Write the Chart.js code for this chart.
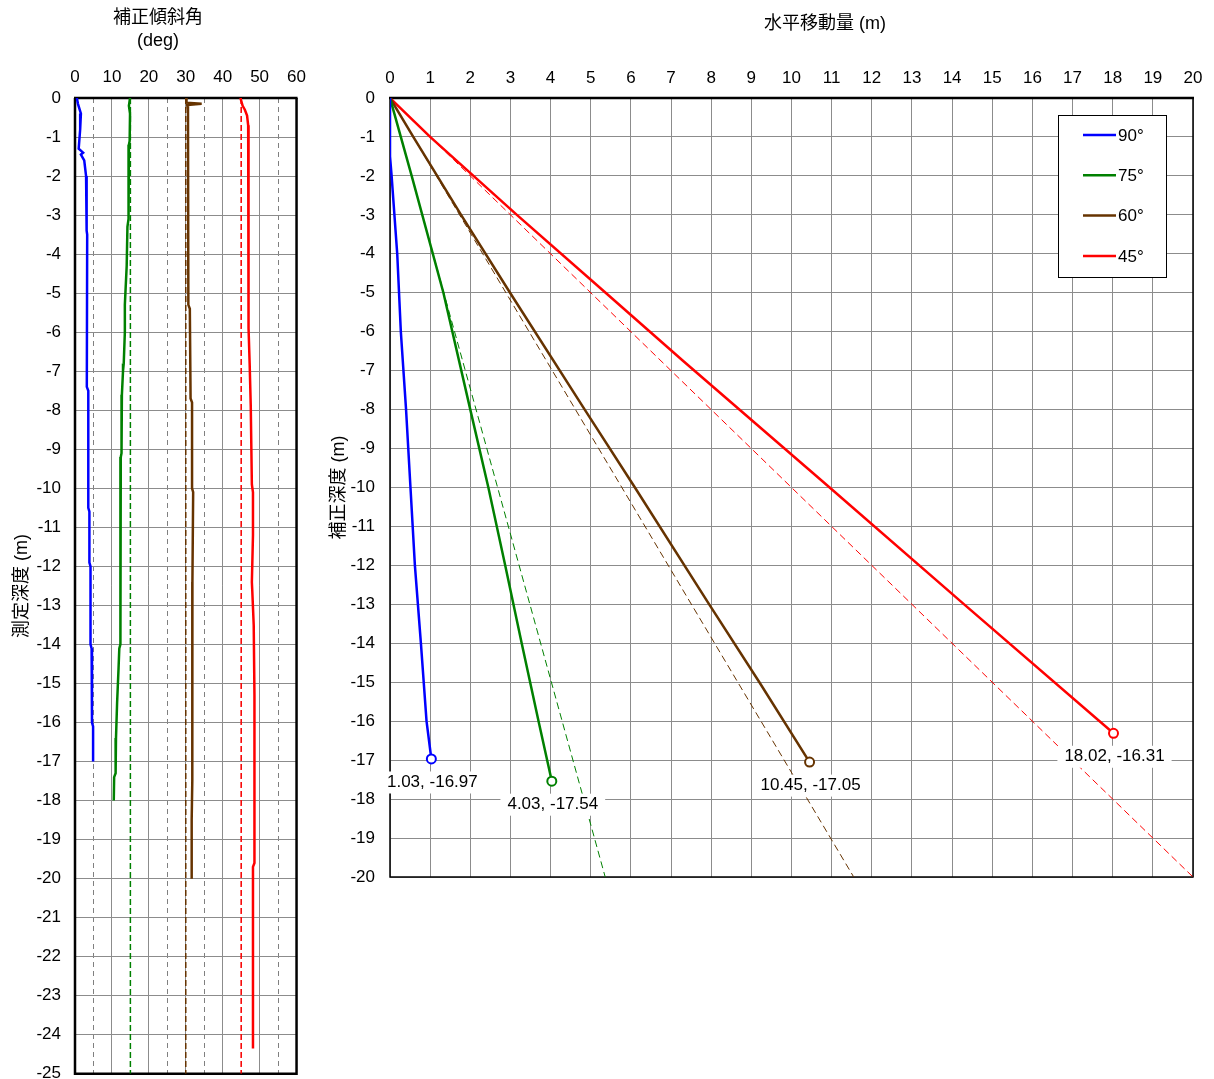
<!DOCTYPE html>
<html>
<head>
<meta charset="utf-8">
<script src="https://cdn.jsdelivr.net/npm/chart.js@4.4.0/dist/chart.umd.min.js"></script>
<style>
  html, body { margin: 0; background: #fff; overflow: hidden; width: 1214px; height: 1079px; }
  #left { position: absolute; left: 0; top: 0; }
  #right { position: absolute; left: 316px; top: 0; }
</style>
</head>
<body>
<canvas id="left" width="316" height="1098"></canvas>
<canvas id="right" width="898" height="903"></canvas>
<script>
// 補正傾斜角 (左のグラフ) : 測定深度ごとの角度
const depth90 = [0, -0.15, -0.4, -0.8, -1.3, -1.4, -1.45, -1.6, -2.0, -2.1, -3.4, -3.5, -7.4, -7.5, -10.5, -10.6, -11.9, -12.0, -13.4, -14.0, -14.1, -16.0, -16.1, -17.0];
const angle90 = [0.5, 0.8, 1.6, 1.4, 1.0, 2.2, 1.6, 2.5, 3.0, 3.2, 3.1, 3.3, 3.2, 3.6, 3.6, 3.9, 3.9, 4.2, 4.1, 4.3, 4.5, 4.6, 4.9, 4.9];
const depth75 = [0, -0.2, -0.4, -1.1, -1.2, -3.1, -3.3, -4.3, -5.3, -6.0, -6.8, -7.0, -7.6, -9.1, -9.2, -12.0, -14.0, -14.1, -14.6, -15.5, -16.4, -17.3, -17.4, -18.0];
const angle75 = [14.9, 14.6, 14.9, 14.8, 14.6, 14.5, 14.2, 14.0, 13.5, 13.5, 13.2, 13.0, 12.7, 12.6, 12.4, 12.3, 12.3, 12.0, 11.8, 11.4, 11.1, 11.0, 10.6, 10.5];
const depth60 = [0, -0.12, -0.15, -0.18, -0.3, -5.3, -5.4, -7.7, -7.8, -10.0, -10.1, -12.4, -14.0, -17.0, -17.5, -18.5, -20.0];
const angle60 = [30.2, 30.2, 34.3, 30.4, 30.6, 30.7, 31.1, 31.3, 31.7, 31.7, 32.0, 31.8, 31.7, 31.7, 31.9, 31.6, 31.6];
const depth45 = [0, -0.2, -0.3, -0.45, -0.7, -0.85, -5.9, -6.8, -7.9, -9.9, -10.1, -11.2, -12.4, -12.6, -13.5, -15.3, -19.6, -19.7, -24.35];
const angle45 = [44.8, 45.4, 46.0, 46.6, 46.9, 47.0, 47.0, 47.3, 47.6, 47.9, 48.2, 48.2, 47.9, 48.0, 48.4, 48.6, 48.6, 48.2, 48.2];

// 計画角度の参考線
const refAngles = [15, 30, 45];
const refDepth = [0, -25];
const minorAngles = [5, 15, 25, 35, 45, 55];

// 水平移動量 (右のグラフ)
const move90X = [0, 0, 0.04, 0.18, 0.27, 0.40, 0.51, 0.62, 0.77, 0.91, 1.03];
const move90Y = [0, -1.5, -2, -4, -6, -8, -10, -12, -14, -16, -16.97];
const move75X = [0, 0.54, 1.33, 2.00, 2.45, 2.87, 3.28, 3.70, 4.03];
const move75Y = [0, -2, -5, -8, -10, -12, -14, -16, -17.54];
const move60X = [0, 0.58, 1.77, 2.99, 4.85, 6.10, 7.95, 9.20, 10.45];
const move60Y = [0, -1, -3, -5, -8, -10, -13, -15, -17.05];
const move45X = [0, 1.00, 3.16, 5.37, 7.31, 10.95, 14.30, 18.02];
const move45Y = [0, -1, -3, -5, -6.76, -10, -13, -16.31];

// 計画線の終点 (深度 -20)
const planEndX = [5.36, 11.55, 20];
const planEndY = [-20, -20, -20];

const seriesLabels = ['90°', '75°', '60°', '45°'];
const colors = ['#0000ff', '#008000', '#663300', '#ff0000'];

const FONT = "'Liberation Sans', 'Noto Sans CJK JP', sans-serif";
Chart.defaults.font.family = FONT;
Chart.defaults.font.size = 17;
Chart.defaults.color = '#000';

const GRID = '#8c8c8c';

function pts(xs, ys) {
    return xs.map((x, i) => ({ x: x, y: ys[i] }));
}

function solid(label, data, color) {
    return {
        label: label, data: data, showLine: true,
        borderColor: color, backgroundColor: color, borderWidth: 2.5,
        pointRadius: 0, tension: 0
    };
}

function dashed(data, color, width, dash) {
    return {
        data: data, showLine: true,
        borderColor: color, borderWidth: width, borderDash: dash,
        pointRadius: 0, tension: 0
    };
}

// 枠線
function framePlugin(top, side) {
    return {
        id: 'frame',
        beforeDatasetsDraw(chart) {
            const a = chart.chartArea, ctx = chart.ctx;
            ctx.save();
            ctx.strokeStyle = '#000';
            ctx.lineWidth = side;
            ctx.beginPath();
            ctx.moveTo(a.left, a.top); ctx.lineTo(a.left, a.bottom);
            ctx.lineTo(a.right, a.bottom); ctx.lineTo(a.right, a.top);
            ctx.stroke();
            ctx.lineWidth = top;
            ctx.beginPath();
            ctx.moveTo(a.left - 1, a.top); ctx.lineTo(a.right + 1, a.top);
            ctx.stroke();
            ctx.restore();
        }
    };
}

// グラフ上の見出し
function headPlugin(lines, dx, ys) {
    return {
        id: 'head',
        afterDraw(chart) {
            const ctx = chart.ctx;
            ctx.save();
            ctx.font = '18px ' + FONT;
            ctx.fillStyle = '#000';
            ctx.textAlign = 'center';
            ctx.textBaseline = 'middle';
            lines.forEach((t, i) => ctx.fillText(t, chart.chartArea.left + dx, ys[i]));
            ctx.restore();
        }
    };
}

// 左: 補正傾斜角
const leftSets = [
    solid(seriesLabels[0], pts(angle90, depth90), colors[0]),
    solid(seriesLabels[1], pts(angle75, depth75), colors[1]),
    solid(seriesLabels[2], pts(angle60, depth60), colors[2]),
    solid(seriesLabels[3], pts(angle45, depth45), colors[3])
];
refAngles.forEach((a, i) => {
    leftSets.push(dashed(pts([a, a], refDepth), colors[i + 1], 1.5, [6, 3]));
});

new Chart(document.getElementById('left'), {
    type: 'scatter',
    data: { datasets: leftSets },
    options: {
        responsive: false,
        animation: false,
        events: [],
        layout: { padding: { left: 0, top: 0, right: 19, bottom: 0 } },
        plugins: { legend: { display: false }, tooltip: { enabled: false } },
        scales: {
            x: {
                type: 'linear', position: 'top', min: 0, max: 60,
                ticks: { stepSize: 10, padding: 10, maxRotation: 0 },
                grid: { color: GRID, drawTicks: false },
                border: { display: false },
                afterFit: s => { s.height = 98; }
            },
            xm: {
                type: 'linear', position: 'top', min: 0, max: 60,
                afterBuildTicks: s => { s.ticks = minorAngles.map(v => ({ value: v })); },
                ticks: { display: false },
                grid: { color: '#808080', drawTicks: false },
                border: { display: false, dash: [5, 4] },
                afterFit: s => { s.height = 0; }
            },
            y: {
                type: 'linear', min: -25, max: 0,
                ticks: { stepSize: 1, padding: 14, autoSkip: false },
                grid: { color: GRID, drawTicks: false },
                border: { display: false },
                title: { display: true, text: '測定深度 (m)', font: { size: 18 }, padding: { top: 11, bottom: 0 } },
                afterFit: s => { s.width = 75; }
            }
        }
    },
    plugins: [framePlugin(2.5, 2.5), headPlugin(['補正傾斜角', '(deg)'], 83, [18, 41])]
});

// 右: 水平移動量
const rightSets = [
    solid(seriesLabels[0], pts(move90X, move90Y), colors[0]),
    solid(seriesLabels[1], pts(move75X, move75Y), colors[1]),
    solid(seriesLabels[2], pts(move60X, move60Y), colors[2]),
    solid(seriesLabels[3], pts(move45X, move45Y), colors[3])
];
rightSets.forEach(ds => {
    ds.pointRadius = c => (c.dataIndex === c.dataset.data.length - 1 ? 4.5 : 0);
    ds.pointBackgroundColor = '#fff';
    ds.pointBorderColor = ds.borderColor;
    ds.pointBorderWidth = 2;
});
planEndX.forEach((x, i) => {
    rightSets.push(dashed(pts([0, x], [0, planEndY[i]]), colors[i + 1], 1, [7, 4]));
});

const legendPlugin = {
    id: 'boxLegend',
    afterDatasetsDraw(chart) {
        const ctx = chart.ctx, a = chart.chartArea;
        const left = a.right - 135, top = a.top + 17, w = 108, h = 162;
        ctx.save();
        ctx.fillStyle = '#fff';
        ctx.fillRect(left, top, w, h);
        ctx.strokeStyle = '#000';
        ctx.lineWidth = 1;
        ctx.strokeRect(left + 0.5, top + 0.5, w, h);
        ctx.font = '17px ' + FONT;
        ctx.textBaseline = 'middle';
        ctx.textAlign = 'left';
        for (let i = 0; i < 4; i++) {
            const ds = chart.data.datasets[i];
            const y = top + 20 + i * 40.3;
            ctx.strokeStyle = ds.borderColor;
            ctx.lineWidth = 2.5;
            ctx.beginPath();
            ctx.moveTo(left + 25, y); ctx.lineTo(left + 58, y);
            ctx.stroke();
            ctx.fillStyle = '#000';
            ctx.fillText(ds.label, left + 60, y + 1);
        }
        ctx.restore();
    }
};

const endLabelPlugin = {
    id: 'endLabels',
    afterDatasetsDraw(chart) {
        const ctx = chart.ctx;
        ctx.save();
        ctx.font = '17px ' + FONT;
        ctx.textAlign = 'center';
        ctx.textBaseline = 'middle';
        for (let i = 0; i < 4; i++) {
            const data = chart.data.datasets[i].data;
            const last = data[data.length - 1];
            const px = chart.scales.x.getPixelForValue(last.x) + 1;
            const py = chart.scales.y.getPixelForValue(last.y) + 23.5;
            const text = last.x.toFixed(2) + ', ' + last.y.toFixed(2);
            const tw = ctx.measureText(text).width;
            ctx.fillStyle = '#fff';
            ctx.fillRect(px - tw / 2 - 7, py - 11, tw + 14, 22);
            ctx.fillStyle = '#000';
            ctx.fillText(text, px, py);
        }
        ctx.restore();
    }
};

new Chart(document.getElementById('right'), {
    type: 'scatter',
    data: { datasets: rightSets },
    options: {
        responsive: false,
        animation: false,
        events: [],
        layout: { padding: { left: 0, top: 0, right: 21, bottom: 26 } },
        plugins: { legend: { display: false }, tooltip: { enabled: false } },
        scales: {
            x: {
                type: 'linear', position: 'top', min: 0, max: 20,
                ticks: { stepSize: 1, padding: 9, maxRotation: 0, autoSkip: false },
                grid: { color: GRID, drawTicks: false },
                border: { display: false },
                afterFit: s => { s.height = 98; }
            },
            y: {
                type: 'linear', min: -20, max: 0,
                ticks: { stepSize: 1, padding: 15, autoSkip: false },
                grid: { color: GRID, drawTicks: false },
                border: { display: false },
                title: { display: true, text: '補正深度 (m)', font: { size: 18 }, padding: { top: 12, bottom: 0 } },
                afterFit: s => { s.width = 74; }
            }
        }
    },
    plugins: [framePlugin(2.5, 1.5), headPlugin(['水平移動量 (m)'], 435, [24]), endLabelPlugin, legendPlugin]
});
</script>
</body>
</html>
